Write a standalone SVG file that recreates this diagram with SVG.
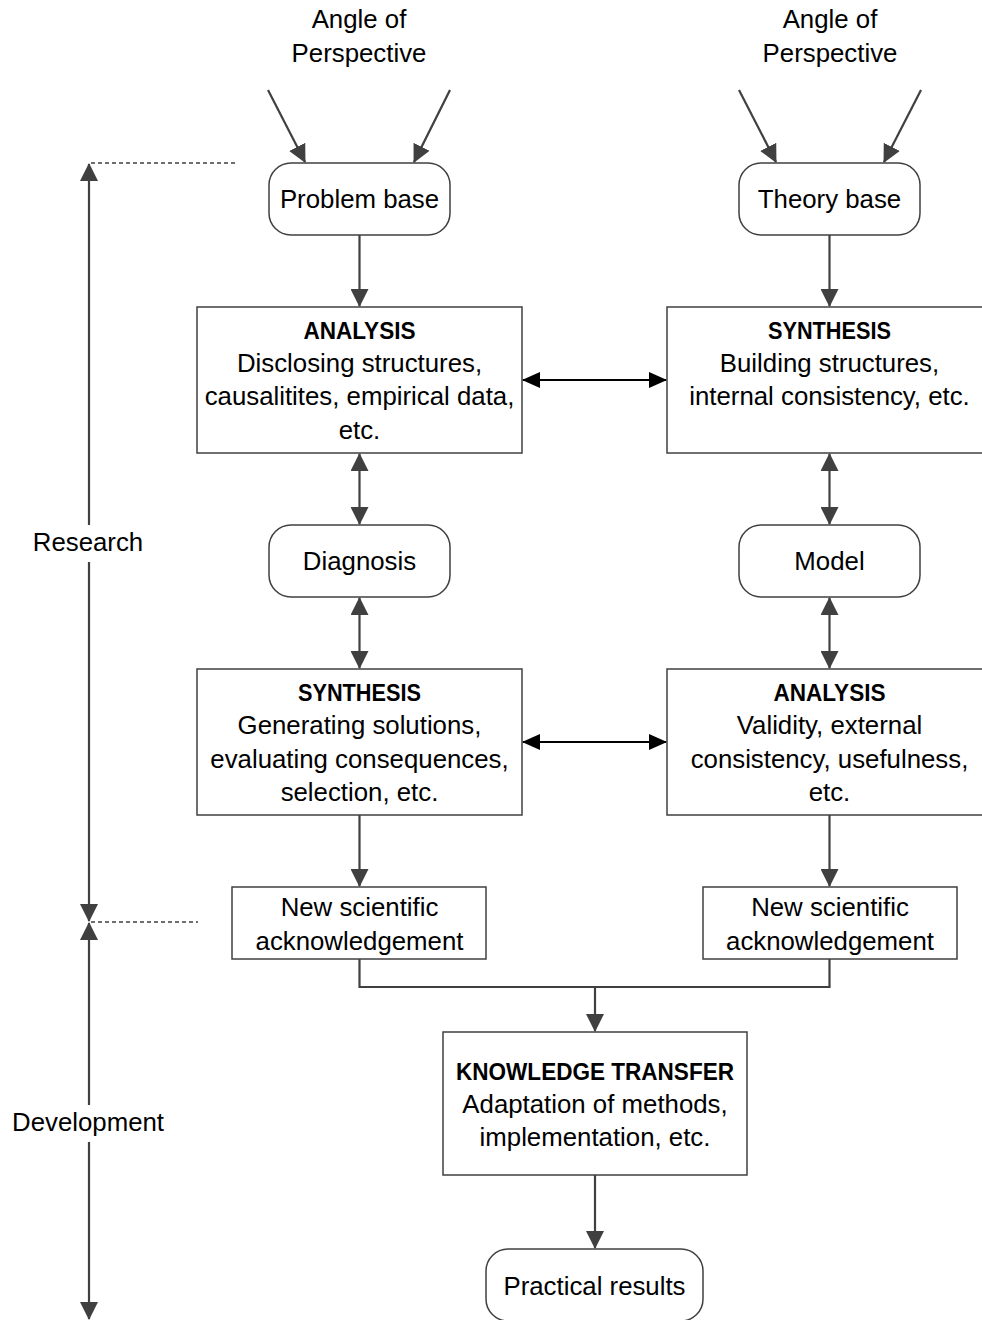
<svg xmlns="http://www.w3.org/2000/svg" width="982" height="1320" viewBox="0 0 982 1320">
  <style>
    .box { fill: #ffffff; stroke: #404040; stroke-width: 1.5; }
    .t { font-family: "Liberation Sans", Arial, sans-serif; font-size: 25.8px; fill: #000; text-anchor: middle; }
    .b { font-weight: bold; font-size: 24.5px; }
    .ln { fill: none; stroke: #404040; stroke-width: 2.2; }
    .lk { fill: none; stroke: #000; stroke-width: 2.2; }
    .dash { fill: none; stroke: #404040; stroke-width: 1.6; stroke-dasharray: 4 3; }
  </style>
  <defs>
    <marker id="ah" markerUnits="userSpaceOnUse" markerWidth="18" markerHeight="18" viewBox="0 0 18 18" refX="17" refY="9" orient="auto-start-reverse">
      <path d="M0,0 L18,9 L0,18 z" fill="#404040"/>
    </marker>
    <marker id="ahk" markerUnits="userSpaceOnUse" markerWidth="18" markerHeight="16" viewBox="0 0 18 16" refX="17" refY="8" orient="auto-start-reverse">
      <path d="M0,0 L18,8 L0,16 z" fill="#000"/>
    </marker>
  </defs>

  <!-- perspective labels -->
  <g id="angle-left">
    <text class="t" x="359" y="28">Angle of</text>
    <text class="t" x="359" y="62">Perspective</text>
  </g>
  <g id="angle-right">
    <text class="t" x="830" y="28">Angle of</text>
    <text class="t" x="830" y="62">Perspective</text>
  </g>

  <!-- left column -->
  <g id="problem-base">
    <rect class="box" x="269" y="163" width="181" height="72" rx="22"/>
    <text class="t" x="359.5" y="208">Problem base</text>
  </g>
  <g id="analysis-left">
    <rect class="box" x="197" y="307" width="325" height="146"/>
    <text class="t b" x="359.5" y="339" textLength="112" lengthAdjust="spacingAndGlyphs">ANALYSIS</text>
    <text class="t" x="359.5" y="372">Disclosing structures,</text>
    <text class="t" x="359.5" y="405">causalitites, empirical data,</text>
    <text class="t" x="359.5" y="439">etc.</text>
  </g>
  <g id="diagnosis">
    <rect class="box" x="269" y="525" width="181" height="72" rx="22"/>
    <text class="t" x="359.5" y="570">Diagnosis</text>
  </g>
  <g id="synthesis-left">
    <rect class="box" x="197" y="669" width="325" height="146"/>
    <text class="t b" x="359.5" y="701" textLength="123" lengthAdjust="spacingAndGlyphs">SYNTHESIS</text>
    <text class="t" x="359.5" y="734">Generating solutions,</text>
    <text class="t" x="359.5" y="768">evaluating consequences,</text>
    <text class="t" x="359.5" y="801">selection, etc.</text>
  </g>
  <g id="new-knowledge-left">
    <rect class="box" x="232" y="887" width="254" height="72"/>
    <text class="t" x="359.5" y="916">New scientific</text>
    <text class="t" x="359.5" y="950">acknowledgement</text>
  </g>

  <!-- right column -->
  <g id="theory-base">
    <rect class="box" x="739" y="163" width="181" height="72" rx="22"/>
    <text class="t" x="829.5" y="208">Theory base</text>
  </g>
  <g id="synthesis-right">
    <rect class="box" x="667" y="307" width="325" height="146"/>
    <text class="t b" x="829.5" y="339" textLength="123" lengthAdjust="spacingAndGlyphs">SYNTHESIS</text>
    <text class="t" x="829.5" y="372">Building structures,</text>
    <text class="t" x="829.5" y="405">internal consistency, etc.</text>
  </g>
  <g id="model">
    <rect class="box" x="739" y="525" width="181" height="72" rx="22"/>
    <text class="t" x="829.5" y="570">Model</text>
  </g>
  <g id="analysis-right">
    <rect class="box" x="667" y="669" width="325" height="146"/>
    <text class="t b" x="829.5" y="701" textLength="112" lengthAdjust="spacingAndGlyphs">ANALYSIS</text>
    <text class="t" x="829.5" y="734">Validity, external</text>
    <text class="t" x="829.5" y="768">consistency, usefulness,</text>
    <text class="t" x="829.5" y="801">etc.</text>
  </g>
  <g id="new-knowledge-right">
    <rect class="box" x="703" y="887" width="254" height="72"/>
    <text class="t" x="830" y="916">New scientific</text>
    <text class="t" x="830" y="950">acknowledgement</text>
  </g>

  <!-- bottom -->
  <g id="knowledge-transfer">
    <rect class="box" x="443" y="1032" width="304" height="143"/>
    <text class="t b" x="595" y="1080" textLength="278" lengthAdjust="spacingAndGlyphs">KNOWLEDGE TRANSFER</text>
    <text class="t" x="595" y="1113">Adaptation of methods,</text>
    <text class="t" x="595" y="1146">implementation, etc.</text>
  </g>
  <g id="practical-results">
    <rect class="box" x="486" y="1249" width="217" height="72" rx="22"/>
    <text class="t" x="594.5" y="1295">Practical results</text>
  </g>

  <!-- phase axis -->
  <g id="phase-axis">
    <line class="ln" x1="89" y1="525" x2="89" y2="164" marker-end="url(#ah)"/>
    <line class="ln" x1="89" y1="562" x2="89" y2="921" marker-end="url(#ah)"/>
    <line class="ln" x1="89" y1="1105" x2="89" y2="923" marker-end="url(#ah)"/>
    <line class="ln" x1="89" y1="1142" x2="89" y2="1319" marker-end="url(#ah)"/>
    <line class="dash" x1="91" y1="163" x2="235" y2="163"/>
    <line class="dash" x1="91" y1="922" x2="198" y2="922"/>
    <text class="t" x="88" y="551">Research</text>
    <text class="t" x="88" y="1131">Development</text>
  </g>

  <!-- connectors -->
  <g id="connectors">
    <line class="ln" x1="268" y1="90" x2="305" y2="162" marker-end="url(#ah)"/>
    <line class="ln" x1="450" y1="90" x2="414" y2="162" marker-end="url(#ah)"/>
    <line class="ln" x1="739" y1="90" x2="776" y2="162" marker-end="url(#ah)"/>
    <line class="ln" x1="921" y1="90" x2="884" y2="162" marker-end="url(#ah)"/>

    <line class="ln" x1="359.5" y1="235" x2="359.5" y2="306" marker-end="url(#ah)"/>
    <line class="ln" x1="829.5" y1="235" x2="829.5" y2="306" marker-end="url(#ah)"/>

    <line class="ln" x1="359.5" y1="454" x2="359.5" y2="524" marker-start="url(#ah)" marker-end="url(#ah)"/>
    <line class="ln" x1="359.5" y1="598" x2="359.5" y2="668" marker-start="url(#ah)" marker-end="url(#ah)"/>
    <line class="ln" x1="829.5" y1="454" x2="829.5" y2="524" marker-start="url(#ah)" marker-end="url(#ah)"/>
    <line class="ln" x1="829.5" y1="598" x2="829.5" y2="668" marker-start="url(#ah)" marker-end="url(#ah)"/>

    <line class="lk" x1="523" y1="380" x2="666" y2="380" marker-start="url(#ahk)" marker-end="url(#ahk)"/>
    <line class="lk" x1="523" y1="742" x2="666" y2="742" marker-start="url(#ahk)" marker-end="url(#ahk)"/>

    <line class="ln" x1="359.5" y1="815" x2="359.5" y2="886" marker-end="url(#ah)"/>
    <line class="ln" x1="829.5" y1="815" x2="829.5" y2="886" marker-end="url(#ah)"/>

    <path class="ln" d="M359.5,959 V987 H829.5 V959"/>
    <line class="ln" x1="595" y1="987" x2="595" y2="1031" marker-end="url(#ah)"/>
    <line class="ln" x1="595" y1="1175" x2="595" y2="1248" marker-end="url(#ah)"/>
  </g>
</svg>
